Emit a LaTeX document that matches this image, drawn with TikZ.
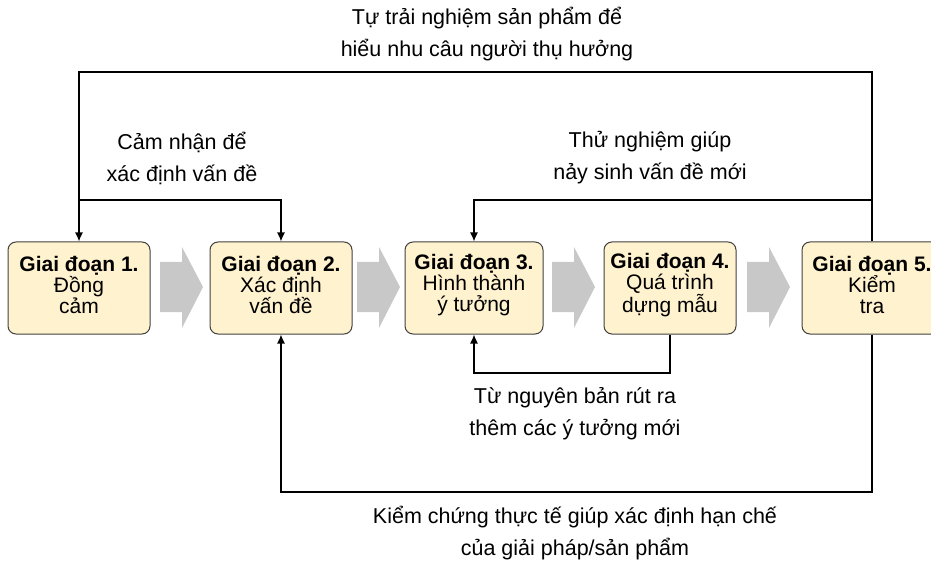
\documentclass[tikz,border=0pt]{standalone}
\usepackage{fontspec}
\setmainfont{Liberation Sans}
\usetikzlibrary{arrows.meta}
\begin{document}
\begin{tikzpicture}[x=1pt,y=-1pt,
  stage/.style={draw=black!75,line width=1pt,rounded corners=8pt,fill=boxfill,
    minimum height=92pt,inner sep=0pt},
  stext/.style={align=center,inner sep=0pt,font=\fontsize{21}{21}\selectfont},
  lbl/.style={align=center,font=\fontsize{21.5}{32}\selectfont,inner sep=0pt},
  conn/.style={line width=1.3pt,black},
  arr/.style={conn,-{Latex[length=9pt,width=8pt]}},
  chev/.style={fill=chevgray,draw=none}]
\definecolor{boxfill}{RGB}{255,242,206}
\definecolor{chevgray}{RGB}{200,200,200}
\useasboundingbox (0,0) rectangle (931,561);

\node[stage,minimum width=142pt] (b1) at (79,288) {};
\node[stage,minimum width=142pt] (b2) at (281,288) {};
\node[stage,minimum width=138pt] (b3) at (474,288) {};
\node[stage,minimum width=132pt] (b4) at (670,288) {};
\node[stage,minimum width=140pt] (b5) at (872,288) {};

\node[stext] (t1) at ([yshift=3pt]b1.center) {\textbf{Giai đoạn 1.}\\Đồng\\cảm};
\node[stext] (t2) at ([yshift=3pt]b2.center) {\textbf{Giai đoạn 2.}\\Xác định\\vấn đề};
\node[stext] (t3) at ([yshift=3pt]b3.center) {\textbf{Giai đoạn 3.}\\Hình thành\\ý tưởng};
\node[stext] (t4) at ([yshift=3pt]b4.center) {\textbf{Giai đoạn 4.}\\Quá trình\\dựng mẫu};
\node[stext] (t5) at ([yshift=3pt]b5.center) {\textbf{Giai đoạn 5.}\\Kiểm\\tra};

% chevrons
\foreach \x in {160,357,552,747}{
  \fill[chev] (\x,262) -- (\x+22,262) -- (\x+22,247) -- (\x+43,287)
    -- (\x+22,328) -- (\x+22,312) -- (\x,312) -- cycle;
}

\coordinate (ytop) at (0,72);
\coordinate (ymid) at (0,200);
\coordinate (ylow) at (0,373);
\coordinate (ybot) at (0,492);

\draw[arr] (b5.north) -- (b5.north |- ytop) -- (b1.north |- ytop) -- (b1.north);
\draw[arr] (b1.north |- ymid) -- (b2.north |- ymid) -- (b2.north);
\draw[arr] (b5.north |- ymid) -- (b3.north |- ymid) -- (b3.north);
\draw[arr] (b4.south) -- (b4.south |- ylow) -- (b3.south |- ylow) -- (b3.south);
\draw[arr] (b5.south) -- (b5.south |- ybot) -- (b2.south |- ybot) -- (b2.south);

\node[lbl] (l1) at (487,34) {Tự trải nghiệm sản phẩm để\\hiểu nhu câu người thụ hưởng};
\node[lbl] (l2) at (182,158) {Cảm nhận để\\xác định vấn đề};
\node[lbl] (l3) at (650,158) {Thử nghiệm giúp\\nảy sinh vấn đề mới};
\node[lbl] (l4) at (575,414) {Từ nguyên bản rút ra\\thêm các ý tưởng mới};
\node[lbl] (l5) at (575,533) {Kiểm chứng thực tế giúp xác định hạn chế\\của giải pháp/sản phẩm};
\end{tikzpicture}
\end{document}
